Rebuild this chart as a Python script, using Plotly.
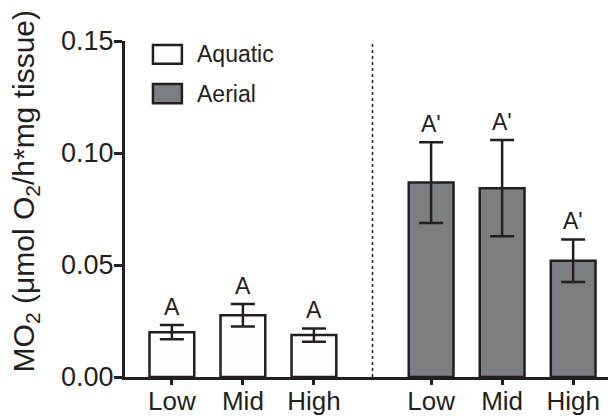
import plotly.graph_objects as go

# data
groups = ["Aquatic", "Aerial"]
levels = ["Low", "Mid", "High"]
aquatic_mean = [0.0200, 0.0276, 0.0187]
aquatic_err = [0.0032, 0.0050, 0.0030]
aerial_mean = [0.0868, 0.0843, 0.0519]
aerial_err = [0.0180, 0.0215, 0.0095]
letters_aquatic = ["A", "A", "A"]
letters_aerial = ["A'", "A'", "A'"]

# x positions: two clusters with a gap between them
aquatic_x = [0, 1, 2]
aerial_x = [3.65, 4.65, 5.65]
divider_x = 2.825

FONT = "Liberation Sans, Arial, sans-serif"
LINE = "#231f20"

fig = go.Figure()

fig.add_trace(go.Bar(
    x=aquatic_x, y=aquatic_mean, width=0.63, name=groups[0],
    marker=dict(color="#fdfdfd", line=dict(color=LINE, width=2.5)),
    error_y=dict(type="data", array=aquatic_err, color=LINE, thickness=2.5, width=12),
    showlegend=False,
))
fig.add_trace(go.Bar(
    x=aerial_x, y=aerial_mean, width=0.63, name=groups[1],
    marker=dict(color="#7d7e81", line=dict(color=LINE, width=2.5)),
    error_y=dict(type="data", array=aerial_err, color=LINE, thickness=2.5, width=12),
    showlegend=False,
))

annotations = []
for xs, ms, es, ls in [(aquatic_x, aquatic_mean, aquatic_err, letters_aquatic),
                       (aerial_x, aerial_mean, aerial_err, letters_aerial)]:
    for x, m, e, l in zip(xs, ms, es, ls):
        annotations.append(dict(x=x, y=m + e, text=l, showarrow=False, yanchor="bottom",
                                yshift=3, font=dict(size=23, color=LINE, family=FONT)))

# legend drawn by hand
shapes = [
    dict(type="rect", xref="paper", yref="paper", x0=0.056, x1=0.114, y0=0.932, y1=0.988,
         fillcolor="#fdfdfd", line=dict(color=LINE, width=2.5)),
    dict(type="rect", xref="paper", yref="paper", x0=0.056, x1=0.114, y0=0.815, y1=0.872,
         fillcolor="#7d7e81", line=dict(color=LINE, width=2.5)),
    dict(type="line", xref="x", yref="y", x0=divider_x, x1=divider_x, y0=0, y1=0.15,
         line=dict(color=LINE, width=1.5, dash="dot")),
]
for yy, name in [(0.960, groups[0]), (0.843, groups[1])]:
    annotations.append(dict(xref="paper", yref="paper", x=0.140, y=yy, text=name,
                            showarrow=False, xanchor="left", yanchor="middle",
                            font=dict(size=23, color=LINE, family=FONT)))

annotations.append(dict(xref="paper", yref="paper", x=-0.2, y=0.553, textangle=-90,
                        text="MO<sub>2</sub> (μmol O<sub>2</sub>/h*mg tissue)",
                        showarrow=False, xanchor="center", yanchor="middle",
                        font=dict(size=30, color=LINE, family=FONT)))

fig.update_layout(
    width=616, height=416,
    margin=dict(l=117, r=0, t=33, b=47),
    paper_bgcolor="white", plot_bgcolor="white",
    font=dict(family=FONT, color=LINE),
    shapes=shapes, annotations=annotations,
    xaxis=dict(range=[-0.66, 6.366], tickvals=aquatic_x + aerial_x, ticktext=levels + levels,
               showline=True, linecolor=LINE, linewidth=3, ticks="outside", ticklen=5,
               tickwidth=3, tickcolor=LINE, showgrid=False, zeroline=False,
               ticklabelstandoff=-6,
               tickfont=dict(size=26, family=FONT, color=LINE)),
    yaxis=dict(range=[0, 0.15], tickvals=[0, 0.05, 0.10, 0.15],
               ticktext=["0.00", "0.05", "0.10", "0.15"],
               showline=True, linecolor=LINE, linewidth=3, ticks="outside", ticklen=8,
               tickwidth=3, tickcolor=LINE, showgrid=False, zeroline=False,
               ticklabelstandoff=-5,
               tickfont=dict(size=27, family=FONT, color=LINE)),
)

fig.write_html("out.html")
